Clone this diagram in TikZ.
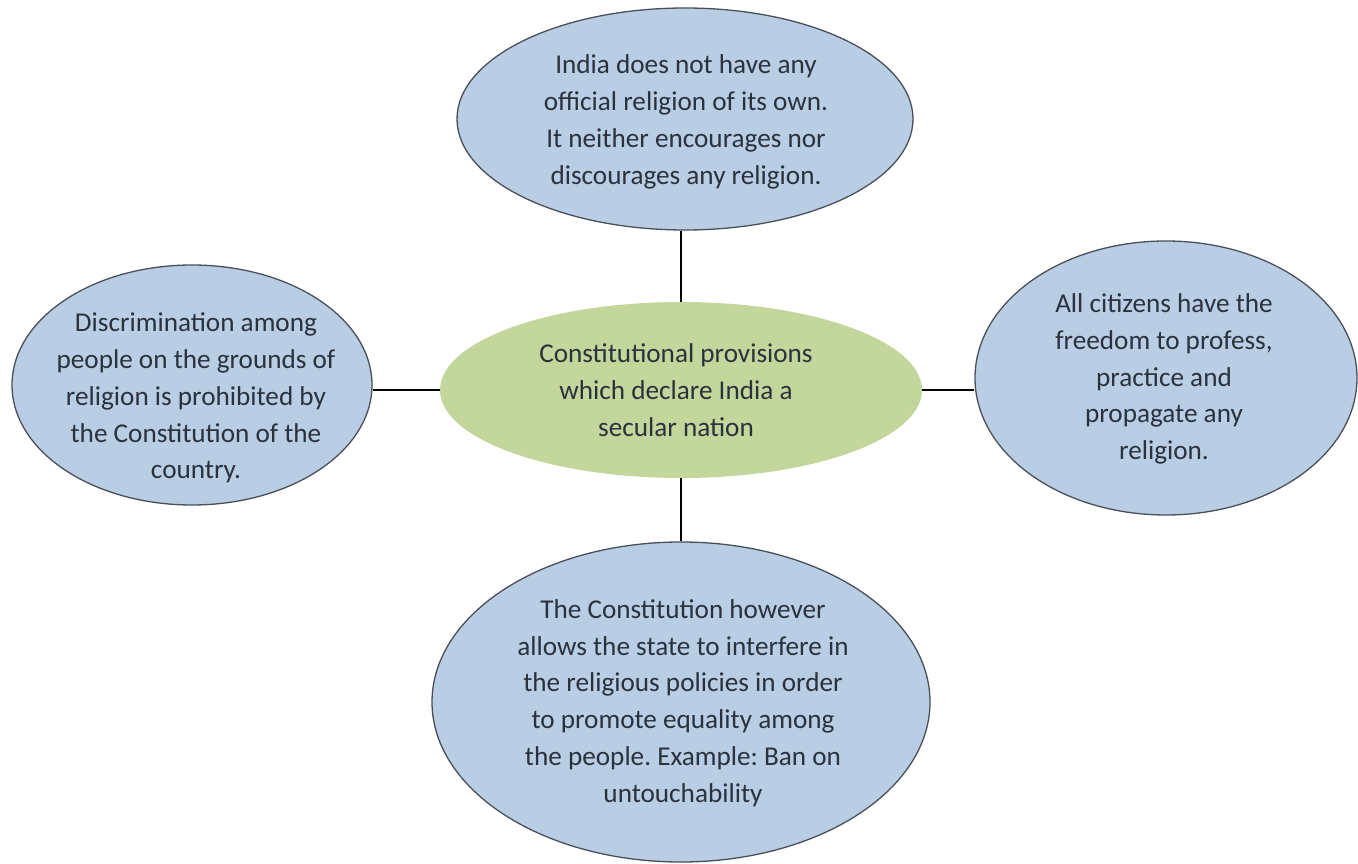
\documentclass[tikz,border=0pt]{standalone}
\usepackage{fontspec}
\setmainfont{Carlito}
\frenchspacing
\usetikzlibrary{shapes.geometric}
\definecolor{bluefill}{HTML}{B9CDE5}
\definecolor{greenfill}{HTML}{C3D69B}
\definecolor{edgecol}{HTML}{4A5058}
\definecolor{txtcol}{HTML}{2A323C}
\tikzset{
  ellblue/.style={ellipse, draw=edgecol, line width=1.3pt, fill=bluefill, inner sep=0pt},
  ellgreen/.style={ellipse, fill=greenfill, inner sep=0pt},
  txt/.style={align=center, text=txtcol, font=\fontsize{27.2}{36.8}\selectfont, inner sep=0pt},
  conn/.style={draw=black, line width=1.1pt}
}
\begin{document}
\begin{tikzpicture}[x=1pt,y=1pt]
\useasboundingbox[fill=white] (0,0) rectangle (1358,863);
% ellipses (y = 863 - y_image)
\node[ellblue, minimum width=456pt, minimum height=222pt] (T) at (685,744) {};
\node[ellgreen, minimum width=482pt, minimum height=176pt] (C) at (681,473) {};
\node[ellblue, minimum width=360pt, minimum height=240pt] (L) at (192,478) {};
\node[ellblue, minimum width=382pt, minimum height=274pt] (R) at (1166,485) {};
\node[ellblue, minimum width=498pt, minimum height=320pt] (B) at (681,161) {};
% texts
\node[txt] (Tt) at (686,741) {India does not have any\\official religion of its own.\\It neither encourages nor\\discourages any religion.};
\node[txt] (Ct) at (676,473) {Constitutional provisions\\which declare India a\\secular nation};
\node[txt] (Lt) at (196,465) {Discrimination among\\people on the grounds of\\religion is prohibited by\\the Constitution of the\\country.};
\node[txt] (Rt) at (1164,484) {All citizens have the\\freedom to profess,\\practice and\\propagate any\\religion.};
\node[txt] (Bt) at (683,160) {The Constitution however\\allows the state to interfere in\\the religious policies in order\\to promote equality among\\the people. Example: Ban on\\untouchability};
% connectors
\draw[conn] (C.north) -- (C.north |- T.south);
\draw[conn] (C.south) -- (C.south |- B.north);
\draw[conn] (C.west) -- (C.west -| L.east);
\draw[conn] (C.east) -- (C.east -| R.west);
\end{tikzpicture}
\end{document}
